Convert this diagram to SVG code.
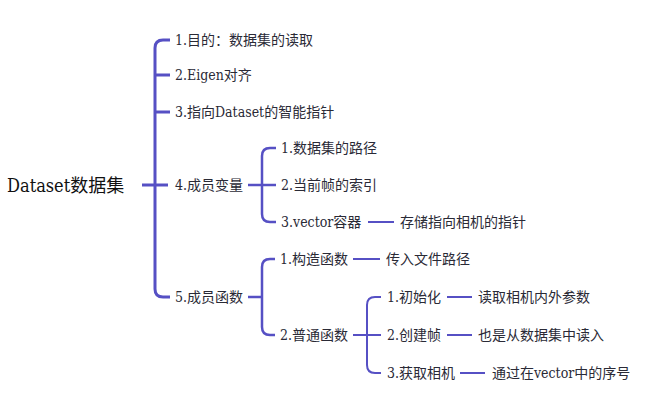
<svg xmlns="http://www.w3.org/2000/svg" width="665" height="413" viewBox="0 0 665 413">
<style>
text{font-family:"DejaVu Serif Condensed","DejaVu Serif","Noto Sans CJK SC",serif;font-size:14px;fill:#2a2a36;dominant-baseline:central}
.root{font-size:18px;fill:#111}
.c path{fill:none;stroke:#5650c4;stroke-linecap:butt}
.w3{stroke-width:3}
.w2{stroke-width:2.5}
.w1{stroke-width:2}
</style>
<rect width="665" height="413" fill="#fff"/>
<g class="c" id="connectors">
<path class="w3" d="M142,185H168"/>
<path class="w3" d="M170,40H163Q155,40 155,48V289Q155,297 163,297H170"/>
<path class="w3" d="M155,75H170M155,112H170"/>
<path class="w2" d="M248,185H276"/>
<path class="w2" d="M276,148H270Q262,148 262,156V214Q262,222 270,222H276"/>
<path class="w2" d="M248,297H262"/>
<path class="w2" d="M275,259H270Q262,259 262,267V327Q262,335 270,335H275"/>
<path class="w1" d="M368,222H394"/>
<path class="w1" d="M353,259H380"/>
<path class="w1" d="M353,335H381"/>
<path class="w1" d="M381,297H375Q367,297 367,305V365Q367,373 375,373H381"/>
<path class="w1" d="M447,297H472M447,335H472M460,373H485"/>
</g>
<g id="n0"><text class="root" x="7" y="185">Dataset数据集</text></g>
<g id="n1"><text x="175" y="40">1.目的：数据集的读取</text></g>
<g id="n2"><text x="175" y="75">2.Eigen对齐</text></g>
<g id="n3"><text x="175" y="112">3.指向Dataset的智能指针</text></g>
<g id="n4"><text x="175" y="185">4.成员变量</text></g>
<g id="n5"><text x="175" y="297">5.成员函数</text></g>
<g id="n41"><text x="281" y="148">1.数据集的路径</text></g>
<g id="n42"><text x="281" y="185">2.当前帧的索引</text></g>
<g id="n43"><text x="281" y="222">3.vector容器</text></g>
<g id="n431"><text x="400" y="222">存储指向相机的指针</text></g>
<g id="n51"><text x="280" y="259">1.构造函数</text></g>
<g id="n511"><text x="386" y="259">传入文件路径</text></g>
<g id="n52"><text x="280" y="335">2.普通函数</text></g>
<g id="n521"><text x="387" y="297">1.初始化</text></g>
<g id="n5211"><text x="478" y="297">读取相机内外参数</text></g>
<g id="n522"><text x="387" y="335">2.创建帧</text></g>
<g id="n5221"><text x="478" y="335">也是从数据集中读入</text></g>
<g id="n523"><text x="387" y="373">3.获取相机</text></g>
<g id="n5231"><text x="492" y="373">通过在vector中的序号</text></g>
</svg>
